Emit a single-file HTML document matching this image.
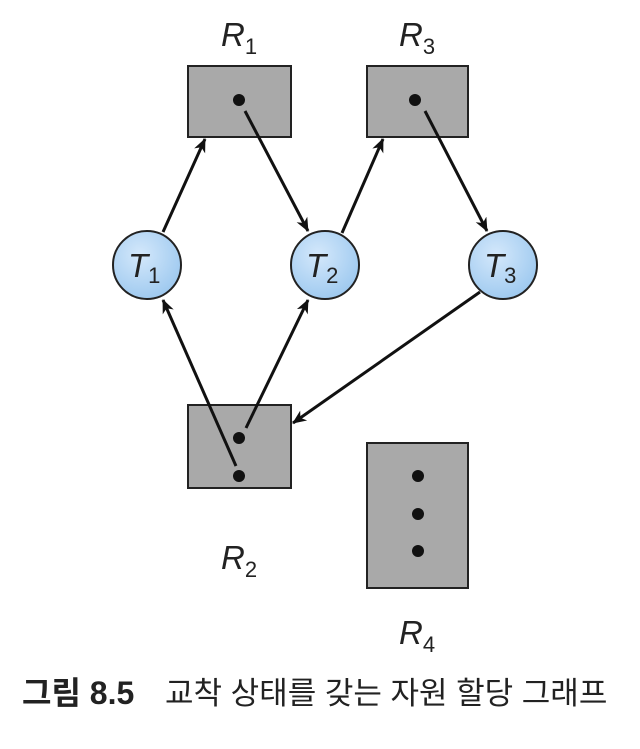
<!DOCTYPE html>
<html><head><meta charset="utf-8"><style>
body{margin:0;background:#fff;width:640px;height:744px;overflow:hidden}
</style></head><body>
<svg width="640" height="744" xmlns="http://www.w3.org/2000/svg">
<defs>
<marker id="a" markerWidth="14" markerHeight="14" refX="13" refY="6" orient="auto" markerUnits="userSpaceOnUse">
<path d="M0,0 L14,6 L0,12 L4,6 Z" fill="#111"/></marker>
<radialGradient id="g" cx="40%" cy="35%" r="70%"><stop offset="0" stop-color="#d4e8fb"/><stop offset="1" stop-color="#9cc8ef"/></radialGradient>
</defs>
<g fill="#a9a9a9" stroke="#222" stroke-width="2">
<rect x="188" y="66" width="103" height="71"/>
<rect x="367" y="66" width="101" height="71"/>
<rect x="188" y="405" width="103" height="83"/>
<rect x="367" y="443" width="101" height="145"/>
</g>
<g fill="#111">
<circle cx="239" cy="100" r="6"/><circle cx="415" cy="100" r="6"/>
<circle cx="239" cy="438" r="6"/><circle cx="239" cy="476" r="6"/>
<circle cx="418" cy="476" r="6"/><circle cx="418" cy="514" r="6"/><circle cx="418" cy="551" r="6"/>
</g>
<g fill="url(#g)" stroke="#222" stroke-width="2">
<circle cx="147" cy="265" r="34"/><circle cx="325" cy="265" r="34"/><circle cx="503" cy="265" r="34"/>
</g>
<g stroke="#111" stroke-width="3" marker-end="url(#a)">
<line x1="163" y1="232" x2="205" y2="139"/>
<line x1="245" y1="111" x2="308" y2="231"/>
<line x1="342" y1="233" x2="383" y2="139"/>
<line x1="425" y1="111" x2="487" y2="231"/>
<line x1="480" y1="292" x2="293" y2="423"/>
<line x1="236" y1="466" x2="163" y2="300"/>
<line x1="246" y1="428" x2="308" y2="300"/>
</g>
<g font-family="Liberation Sans, sans-serif" font-style="italic" fill="#222">
<text x="221" y="46" font-size="33">R<tspan font-size="22" font-style="normal" dy="8">1</tspan></text>
<text x="399" y="46" font-size="33">R<tspan font-size="22" font-style="normal" dy="8">3</tspan></text>
<text x="221" y="569" font-size="33">R<tspan font-size="22" font-style="normal" dy="8">2</tspan></text>
<text x="399" y="644" font-size="33">R<tspan font-size="22" font-style="normal" dy="8">4</tspan></text>
<text x="128" y="277" font-size="33">T<tspan font-size="22" font-style="normal" dy="6">1</tspan></text>
<text x="306" y="277" font-size="33">T<tspan font-size="22" font-style="normal" dy="6">2</tspan></text>
<text x="484" y="277" font-size="33">T<tspan font-size="22" font-style="normal" dy="6">3</tspan></text>
</g>
<text x="22" y="704" font-family="Liberation Sans, 'Noto Sans CJK KR', sans-serif" font-size="32" font-weight="bold" fill="#222">그림 8.5</text>
<text x="165" y="704" font-family="Liberation Sans, 'Noto Sans CJK KR', sans-serif" font-size="31" fill="#222">교착 상태를 갖는 자원 할당 그래프</text>
</svg>
</body></html>
